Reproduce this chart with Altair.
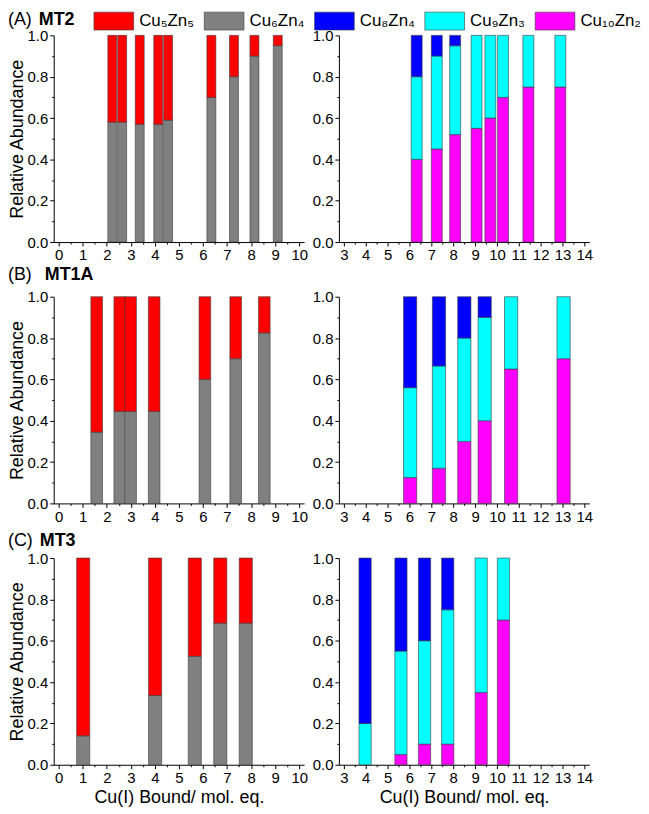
import pandas as pd
import altair as alt

FONT = "Liberation Sans, Arial, sans-serif"

# species (bottom-to-top order inside a bar) and their colours
species = ["Cu₅Zn₅", "Cu₆Zn₄", "Cu₈Zn₄", "Cu₉Zn₃", "Cu₁₀Zn₂"]
colors = ["#ff0000", "#808080", "#0000ff", "#00ffff", "#ff00ff"]

row_letters = ["(A)", "(B)", "(C)"]
row_names = ["MT2", "MT1A", "MT3"]

# (A) MT2
xA_left = [2.23, 2.64, 3.37, 4.14, 4.55, 6.35, 7.29, 8.14, 9.11]
cu6zn4_A = [0.58, 0.58, 0.57, 0.57, 0.59, 0.70, 0.80, 0.90, 0.95]
cu5zn5_A = [0.42, 0.42, 0.43, 0.43, 0.41, 0.30, 0.20, 0.10, 0.05]

xA_right = [6.33, 7.25, 8.09, 9.07, 9.70, 10.28, 11.44, 12.90]
cu10zn2_A = [0.40, 0.45, 0.52, 0.55, 0.60, 0.70, 0.75, 0.75]
cu9zn3_A = [0.40, 0.45, 0.43, 0.45, 0.40, 0.30, 0.25, 0.25]
cu8zn4_A = [0.20, 0.10, 0.05, 0.0, 0.0, 0.0, 0.0, 0.0]

# (B) MT1A
xB_left = [1.58, 2.54, 2.99, 3.97, 6.08, 7.36, 8.55]
cu6zn4_B = [0.345, 0.445, 0.445, 0.445, 0.60, 0.70, 0.825]
cu5zn5_B = [0.655, 0.555, 0.555, 0.555, 0.40, 0.30, 0.175]

xB_right = [6.03, 7.35, 8.51, 9.44, 10.65, 13.05]
cu10zn2_B = [0.125, 0.17, 0.30, 0.40, 0.65, 0.70]
cu9zn3_B = [0.435, 0.495, 0.50, 0.50, 0.35, 0.30]
cu8zn4_B = [0.44, 0.335, 0.20, 0.10, 0.0, 0.0]

# (C) MT3
xC_left = [1.02, 4.01, 5.66, 6.72, 7.78]
cu6zn4_C = [0.14, 0.335, 0.525, 0.685, 0.685]
cu5zn5_C = [0.86, 0.665, 0.475, 0.315, 0.315]

xC_right = [3.97, 5.61, 6.69, 7.75, 9.28, 10.30]
cu10zn2_C = [0.0, 0.05, 0.10, 0.10, 0.35, 0.70]
cu9zn3_C = [0.20, 0.50, 0.50, 0.65, 0.65, 0.30]
cu8zn4_C = [0.80, 0.45, 0.40, 0.25, 0.0, 0.0]

y_major = [0.0, 0.2, 0.4, 0.6, 0.8, 1.0]
y_minor = [0.1, 0.3, 0.5, 0.7, 0.9]

W, H = 252, 208


def long_table(xs, stack):
    rows = []
    for i, x in enumerate(xs):
        for k, (name, vals) in enumerate(stack):
            if vals[i] > 0:
                rows.append({"x": x, "species": name, "val": vals[i], "ord": k})
    return pd.DataFrame(rows)


# swatch 40x18 px: unit path scaled by 9 px, starting at the entry's left edge
legend = alt.Legend(
    orient="none", legendX=40, legendY=-24, direction="horizontal", columns=5,
    title=None, symbolType="M-1,-1L3.44,-1L3.44,1L-1,1Z", symbolSize=324,
    symbolStrokeColor="#3a3a3a", symbolStrokeWidth=0.6, symbolOpacity=1,
    labelFont=FONT, labelFontSize=17, labelOffset=27, columnPadding=8,
    labelLimit=300, labelColor="black", padding=0,
)


def panel(df, xdom, bar_px, left, bottom, row):
    xscale = alt.Scale(domain=xdom, nice=False, zero=False)
    yscale = alt.Scale(domain=[0, 1], nice=False)
    bars = alt.Chart(df).mark_bar(size=bar_px, stroke="#3a3a3a", strokeWidth=0.6).encode(
        x=alt.X("x:Q", scale=xscale,
                axis=alt.Axis(values=list(range(xdom[0], xdom[1] + 1)), format="d",
                              title="Cu(I) Bound/ mol. eq." if bottom else None,
                              labelFlush=False, labelOverlap=False, titlePadding=3)),
        y=alt.Y("val:Q", stack="zero", scale=yscale,
                axis=alt.Axis(values=y_major, format=".1f",
                              title="Relative Abundance" if left else None,
                              titlePadding=1)),
        color=alt.Color("species:N", scale=alt.Scale(domain=species, range=colors), legend=legend),
        order=alt.Order("ord:Q"),
    )
    minor = alt.Chart(df).mark_point(opacity=0).encode(
        x=alt.X("x:Q", scale=xscale,
                axis=alt.Axis(values=[v + 0.5 for v in range(xdom[0], xdom[1])], labels=False,
                              tickSize=2, domain=False, title=None, orient="bottom")),
        y=alt.Y("val:Q", scale=yscale,
                axis=alt.Axis(values=y_minor, labels=False, tickSize=2, domain=False,
                              title=None, orient="left")),
    )
    layers = [bars, minor]
    if left:
        ty = [-10, -17, -12][row]
        nx = [-15, -9, -14][row]
        lab = pd.DataFrame({"letter": [row_letters[row]], "name": [row_names[row]]})
        layers.append(alt.Chart(lab).mark_text(
            align="left", baseline="alphabetic", font=FONT, fontSize=18, color="black"
        ).encode(text="letter:N", x=alt.value(-46), y=alt.value(ty)))
        layers.append(alt.Chart(lab).mark_text(
            align="left", baseline="alphabetic", font=FONT, fontSize=18, fontWeight="bold",
            color="black"
        ).encode(text="name:N", x=alt.value(nx), y=alt.value(ty)))
    return alt.layer(*layers).resolve_axis(x="independent", y="independent").properties(
        width=W, height=H)


left_stack = lambda g, r: [("Cu₆Zn₄", g), ("Cu₅Zn₅", r)]
right_stack = lambda m, c, b: [("Cu₁₀Zn₂", m), ("Cu₉Zn₃", c), ("Cu₈Zn₄", b)]

pA_l = panel(long_table(xA_left, left_stack(cu6zn4_A, cu5zn5_A)), [0, 10], 9, True, False, 0)
pA_r = panel(long_table(xA_right, right_stack(cu10zn2_A, cu9zn3_A, cu8zn4_A)), [3, 14], 11, False, False, 0)
pB_l = panel(long_table(xB_left, left_stack(cu6zn4_B, cu5zn5_B)), [0, 10], 11.7, True, False, 1)
pB_r = panel(long_table(xB_right, right_stack(cu10zn2_B, cu9zn3_B, cu8zn4_B)), [3, 14], 13.3, False, False, 1)
pC_l = panel(long_table(xC_left, left_stack(cu6zn4_C, cu5zn5_C)), [0, 10], 13.2, True, True, 2)
pC_r = panel(long_table(xC_right, right_stack(cu10zn2_C, cu9zn3_C, cu8zn4_C)), [3, 14], 12.3, False, True, 2)

chart = alt.concat(
    pA_l, pA_r, pB_l, pB_r, pC_l, pC_r,
    columns=2, spacing={"row": 55, "column": 35}, bounds="flush",
).properties(
    padding={"top": 1, "left": 0, "right": 0, "bottom": 0}
).configure_view(stroke=None).configure_axis(
    grid=False, domainColor="black", tickColor="black", labelColor="black", titleColor="black",
    labelFont=FONT, titleFont=FONT, labelFontSize=15, titleFontSize=18, titleFontWeight="normal",
    tickSize=4, labelPadding=2, domainWidth=1, tickWidth=1,
)

chart.save("out.html", embed_options={"renderer": "svg", "actions": False})
